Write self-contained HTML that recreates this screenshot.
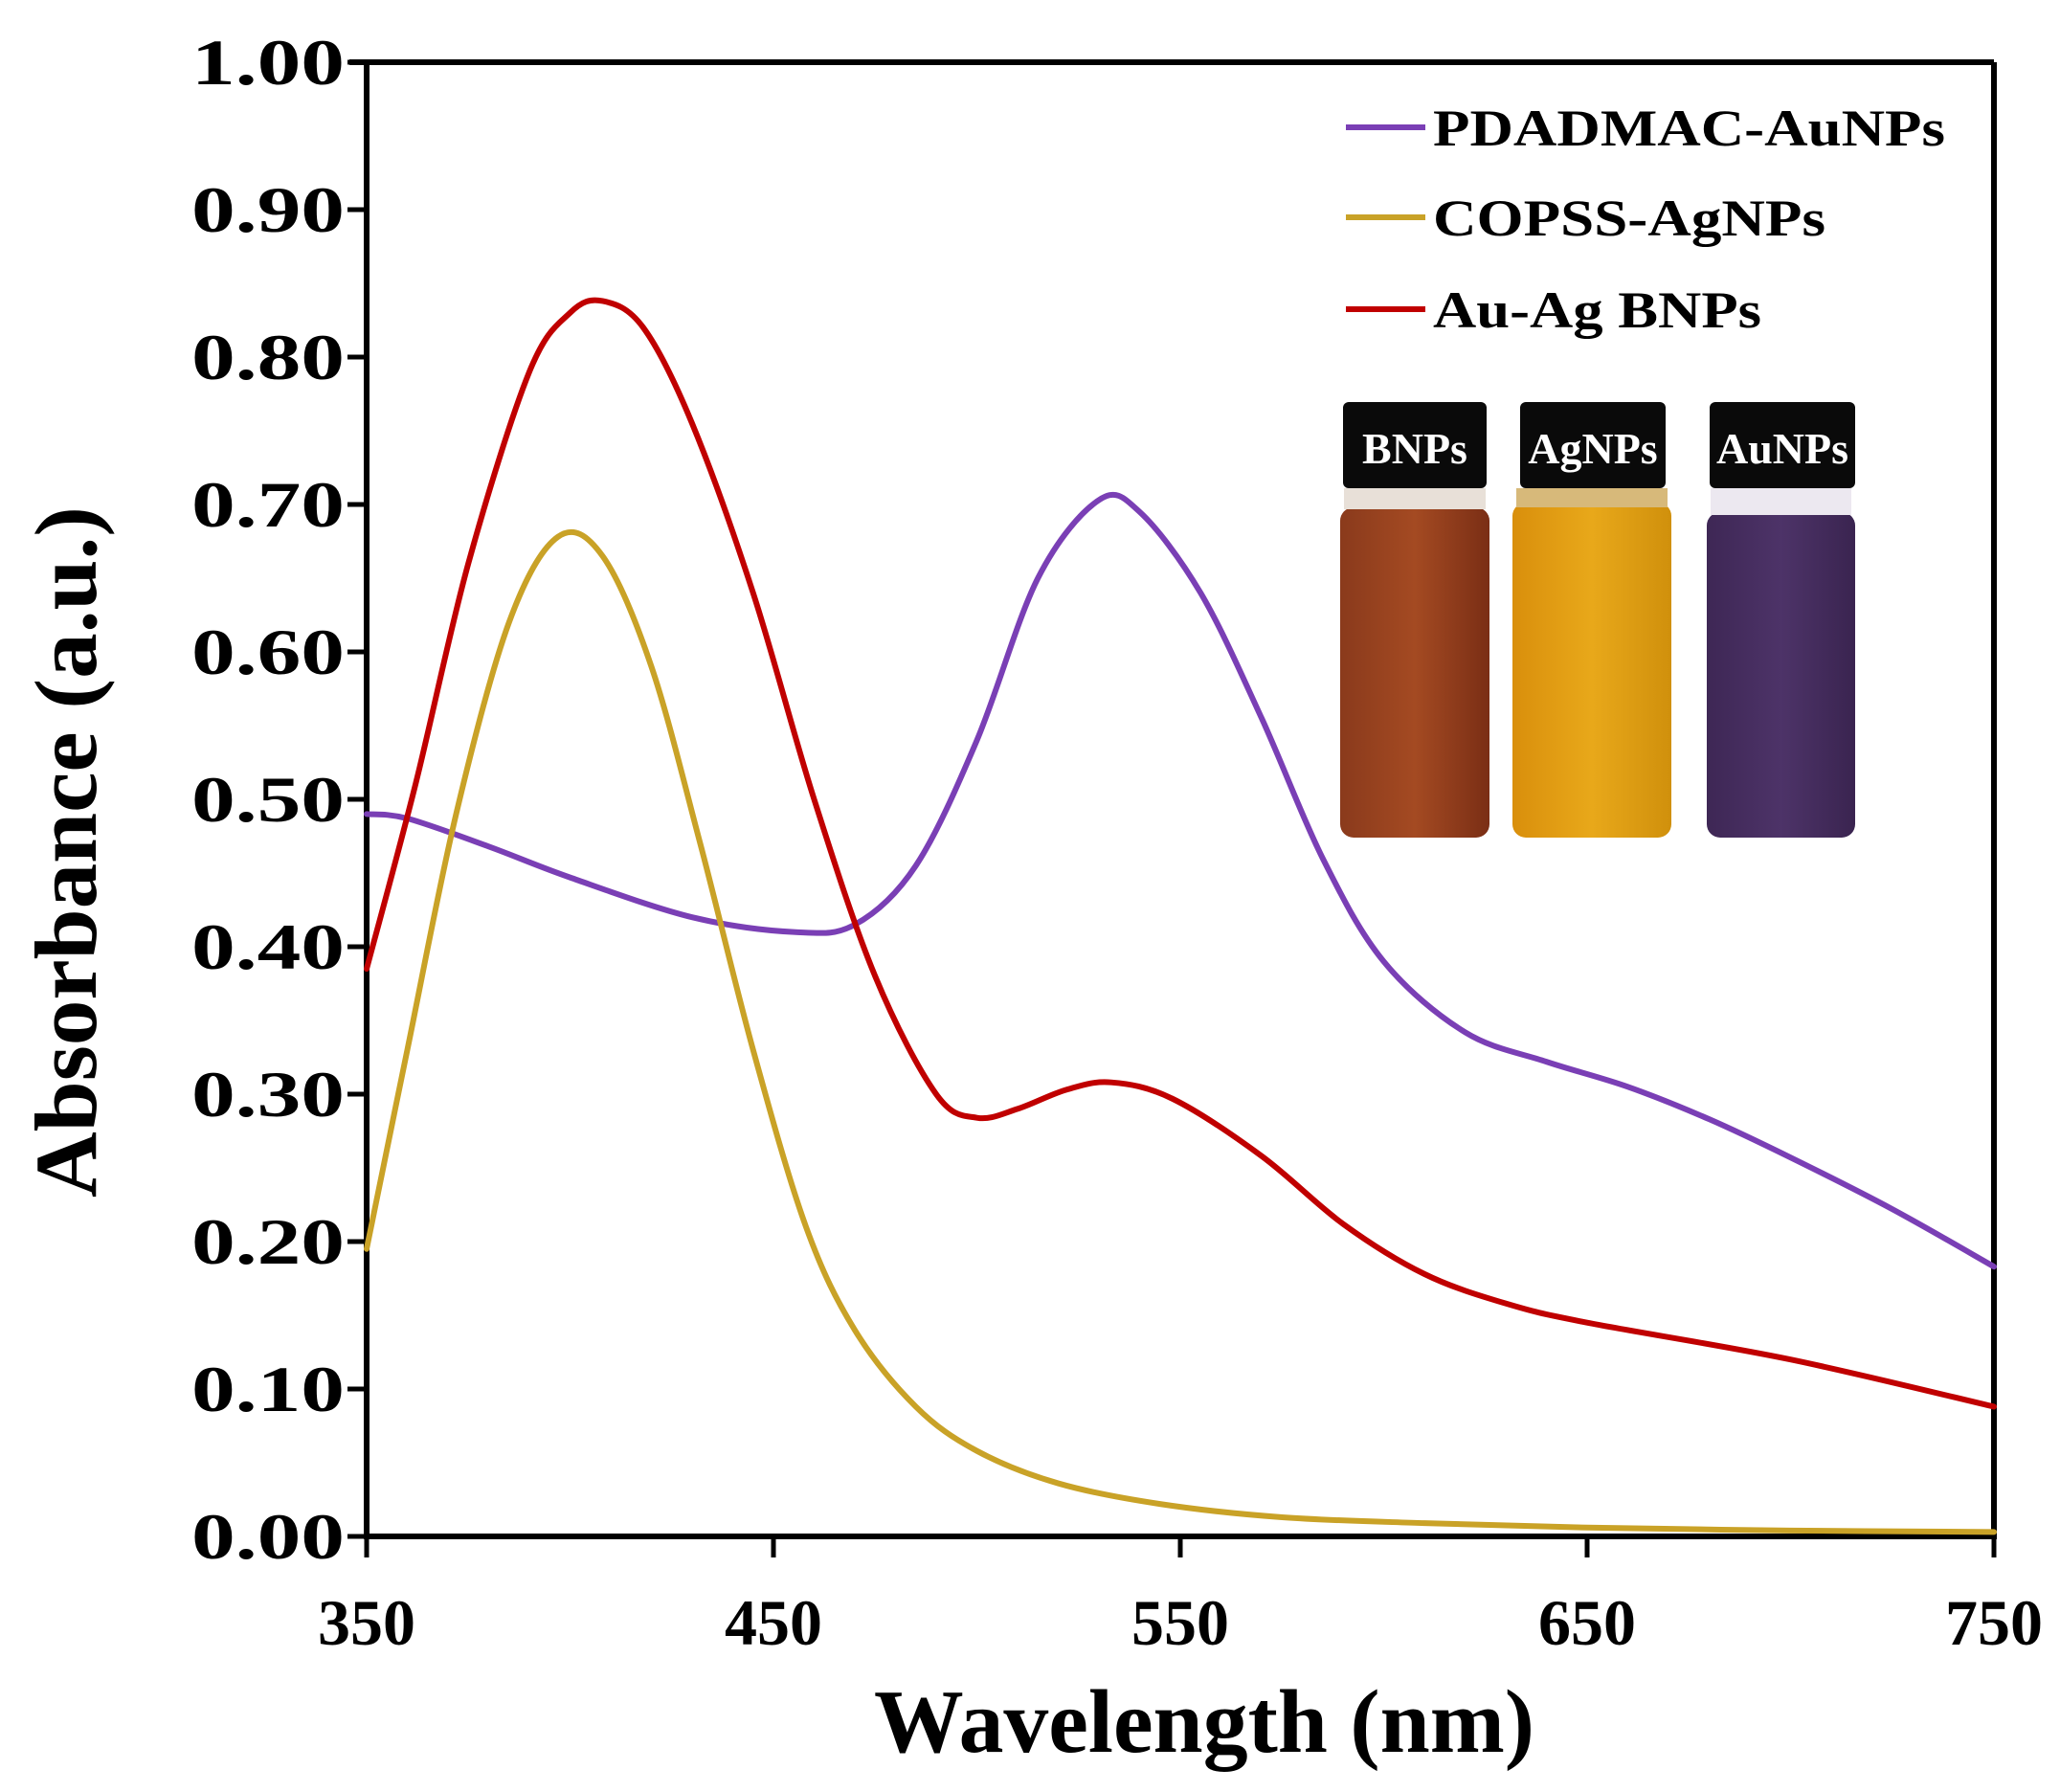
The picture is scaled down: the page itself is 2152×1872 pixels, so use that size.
<!DOCTYPE html>
<html><head><meta charset="utf-8"><style>
html,body{margin:0;padding:0;background:#fff}
svg{display:block}
text{font-family:"Liberation Serif",serif;font-weight:bold;fill:#000}
</style></head><body>
<svg id="s" width="2152" height="1872" viewBox="0 0 2152 1872" xmlns="http://www.w3.org/2000/svg">
<defs>
<linearGradient id="gB" x1="0" x2="1"><stop offset="0" stop-color="#8a3a1c"/><stop offset="0.5" stop-color="#a44a22"/><stop offset="1" stop-color="#7a2e15"/></linearGradient>
<linearGradient id="gA" x1="0" x2="1"><stop offset="0" stop-color="#d98f0c"/><stop offset="0.5" stop-color="#e8a81a"/><stop offset="1" stop-color="#d0900c"/></linearGradient>
<linearGradient id="gU" x1="0" x2="1"><stop offset="0" stop-color="#3e2755"/><stop offset="0.5" stop-color="#4d3368"/><stop offset="1" stop-color="#3a2450"/></linearGradient>
</defs>
<g id="vials">
<rect x="1400" y="530" width="156" height="345" rx="14" fill="url(#gB)"/>
<rect x="1404" y="510" width="148" height="22" fill="#e8e0d8"/>
<rect x="1403" y="420" width="150" height="90" rx="6" fill="#0a0a0a"/>
<text x="1478" y="484" text-anchor="middle" font-size="46" style="fill:#fff">BNPs</text>
<rect x="1580" y="525" width="166" height="350" rx="14" fill="url(#gA)"/>
<rect x="1584" y="510" width="158" height="20" fill="#d7b97a"/>
<rect x="1588" y="420" width="152" height="90" rx="6" fill="#0a0a0a"/>
<text x="1664" y="484" text-anchor="middle" font-size="46" style="fill:#fff">AgNPs</text>
<rect x="1783" y="535" width="155" height="340" rx="14" fill="url(#gU)"/>
<rect x="1787" y="510" width="147" height="28" fill="#ece8f0"/>
<rect x="1786" y="420" width="152" height="90" rx="6" fill="#0a0a0a"/>
<text x="1862" y="484" text-anchor="middle" font-size="46" style="fill:#fff">AuNPs</text>
</g>
<g stroke="#000" stroke-width="6" fill="none">
<path d="M383 65 V1605 H2083 V65 M365 65 H2083"/>
</g>
<g id="ticks" stroke="#000" stroke-width="5"></g>
<g id="labels"></g>
<g id="curves" fill="none" stroke-width="6" stroke-linejoin="round" stroke-linecap="round"></g>
<line x1="1406" y1="133" x2="1489" y2="133" stroke="#7a3fb5" stroke-width="6"/>
<line x1="1406" y1="227" x2="1489" y2="227" stroke="#c9a227" stroke-width="6"/>
<line x1="1406" y1="323" x2="1489" y2="323" stroke="#c00000" stroke-width="6"/>
<text x="1497" y="152" font-size="54" textLength="535" lengthAdjust="spacingAndGlyphs">PDADMAC-AuNPs</text>
<text x="1497" y="246" font-size="54" textLength="410" lengthAdjust="spacingAndGlyphs">COPSS-AgNPs</text>
<text x="1497" y="342" font-size="54" textLength="343" lengthAdjust="spacingAndGlyphs">Au-Ag BNPs</text>
<text x="1258" y="1830" text-anchor="middle" font-size="94" textLength="690" lengthAdjust="spacingAndGlyphs">Wavelength (nm)</text>
<text transform="translate(100,890) rotate(-90)" text-anchor="middle" font-size="92" textLength="722" lengthAdjust="spacingAndGlyphs">Absorbance (a.u.)</text>
</svg>
<script>
var NS="http://www.w3.org/2000/svg";
function X(w){return 383+(w-350)*1700/400}
function Y(a){return 1605-1540*a}
var tk=document.getElementById('ticks'),lb=document.getElementById('labels');
function el(p,t,a,txt){var e=document.createElementNS(NS,t);for(var k in a)e.setAttribute(k,a[k]);if(txt)e.textContent=txt;p.appendChild(e);return e}
for(var i=0;i<=10;i++){var y=Y(i/10);el(tk,'line',{x1:363,x2:383,y1:y,y2:y});
el(lb,'text',{x:360,y:y+23,'text-anchor':'end','font-size':68,textLength:160,lengthAdjust:'spacingAndGlyphs'},(i/10).toFixed(2));}
[350,450,550,650,750].forEach(function(w){var x=X(w);el(tk,'line',{x1:x,x2:x,y1:1605,y2:1627});
el(lb,'text',{x:x,y:1718,'text-anchor':'middle','font-size':68},w);});
function path(pts){var P=pts.map(function(p){return[X(p[0]),Y(p[1])]});var d='M'+P[0][0]+' '+P[0][1];
for(var i=0;i<P.length-1;i++){var p0=P[i-1]||P[i],p1=P[i],p2=P[i+1],p3=P[i+2]||P[i+1];
d+=' C'+(p1[0]+(p2[0]-p0[0])/6)+' '+(p1[1]+(p2[1]-p0[1])/6)+' '+(p2[0]-(p3[0]-p1[0])/6)+' '+(p2[1]-(p3[1]-p1[1])/6)+' '+p2[0]+' '+p2[1];}return d}
var cv=document.getElementById('curves');
var purple=[[350,0.49],[360,0.487],[380,0.468],[400,0.447],[430,0.42],[455,0.41],[470,0.415],[485,0.455],[500,0.54],[515,0.65],[530,0.703],[540,0.695],[555,0.64],[570,0.555],[585,0.46],[600,0.39],[620,0.342],[640,0.322],[660,0.305],[680,0.283],[700,0.257],[725,0.222],[750,0.183]];
var red=[[350,0.385],[362,0.51],[375,0.66],[390,0.79],[400,0.83],[408,0.838],[418,0.82],[430,0.755],[445,0.64],[460,0.5],[475,0.38],[490,0.3],[500,0.284],[510,0.29],[522,0.303],[533,0.308],[548,0.297],[570,0.258],[590,0.212],[610,0.178],[630,0.158],[650,0.145],[700,0.12],[750,0.088]];
var gold=[[350,0.195],[360,0.33],[372,0.49],[385,0.62],[397,0.678],[408,0.665],[420,0.59],[432,0.47],[445,0.33],[458,0.21],[470,0.14],[485,0.088],[500,0.058],[520,0.036],[545,0.022],[575,0.013],[610,0.009],[650,0.006],[700,0.004],[750,0.003]];
[[purple,'#7a3fb5'],[gold,'#c9a227'],[red,'#c00000']].forEach(function(c){el(cv,'path',{d:path(c[0]),stroke:c[1]})});
</script>
</body></html>
